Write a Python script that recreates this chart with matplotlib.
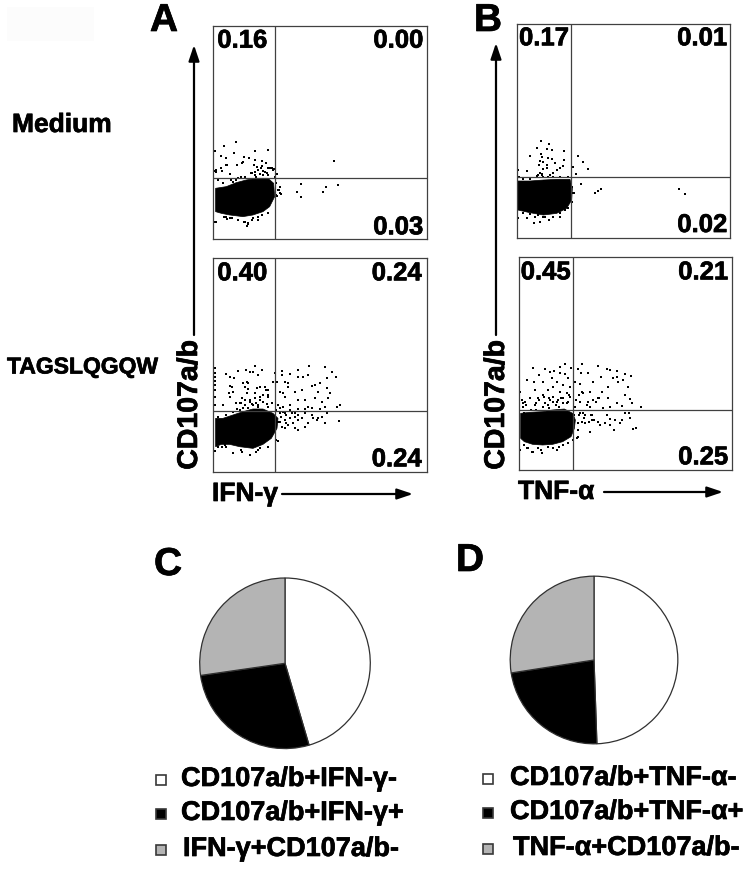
import matplotlib
matplotlib.use('Agg')
import matplotlib.pyplot as plt
import matplotlib.patheffects as pe

plt.rcParams['font.family'] = ['Liberation Sans', 'DejaVu Sans']
plt.rcParams['font.weight'] = 'bold'

W, H = 752, 873

# flow plot dots, channels 0-640
a1_x = [68, 31, 6, 126, 165, 63, 23, 38, 93, 108, 125, 145, 90, 85, 71, 41, 22, 6, 27, 123, 130, 158, 145, 165, 175, 182, 135, 150, 125, 115, 140, 160, 50, 95, 75, 53, 192, 185, 200, 197, 202, 190, 262, 252, 264, 329, 338, 373, 363, 6, 41, 55, 75, 93, 105, 102, 115, 133, 147, 33,
        29, 14, 59, 69, 84, 114, 124, 134, 144, 154, 164, 179, 169, 189, 189, 194, 199, 189, 129, 149, 39, 24, 7, 9, 119, 104, 94, 74, 49, 29, 7, 39, 134, 164]
a1_y = [291, 281, 264, 266, 269, 259, 251, 245, 247, 244, 238, 236, 233, 228, 224, 222, 215, 206, 205, 223, 218, 228, 221, 213, 213, 211, 208, 206, 203, 198, 196, 198, 196, 188, 183, 178, 196, 188, 158, 148, 135, 130, 165, 142, 127, 142, 158, 162, 234, 53, 62, 63, 58, 51, 46, 40, 58, 58, 73, 68,
        168, 178, 173, 178, 188, 198, 193, 208, 213, 203, 193, 208, 213, 196, 168, 148, 138, 133, 188, 193, 223, 213, 203, 208, 63, 48, 53, 58, 63, 83, 53, 68, 68, 78]
a1_blob_x = [7, 39, 69, 99, 129, 164, 181, 184, 169, 149, 119, 89, 49, 24, 7]
a1_blob_y = [153, 158, 170, 178, 183, 183, 168, 128, 98, 83, 73, 68, 73, 78, 83]

a2_x = [6, 6, 6, 6, 6, 6, 6, 6, 125, 97, 73, 147, 110, 120, 135, 37, 50, 63, 100, 105, 90, 50, 57, 95, 103, 47, 60, 130, 140, 155, 165, 125, 100, 165, 140, 85, 110, 125, 150, 80, 95, 115, 135, 160, 175, 180, 185, 30, 70, 90,
        207, 207, 230, 253, 286, 336, 355, 368, 340, 255, 270, 285, 215, 225, 190, 305, 320, 295, 340, 200, 210, 215, 225, 265, 245, 315, 350, 343, 325, 305, 275, 255, 285, 295, 230, 210, 195, 335, 380, 370, 320, 255, 275,
        200, 215, 235, 253, 275, 295, 340, 325, 200, 215, 230, 245, 265, 285, 300, 315, 310, 378, 335, 205, 225, 245, 253, 275, 193,
        6, 25, 60, 85, 110, 135, 35,
        94, 84, 109, 119, 129, 124, 139, 159, 149, 164, 69, 134, 104, 79, 59, 39, 14, 24, 29, 49, 164, 199, 209, 219, 204, 229, 194, 239, 219, 214, 189, 164, 139, 129, 109, 84, 59, 39, 14, 189, 229, 244, 254]
a2_y = [312, 297, 285, 273, 260, 245, 225, 200, 317, 305, 303, 305, 299, 298, 290, 293, 283, 281, 270, 265, 267, 257, 253, 255, 247, 235, 240, 250, 255, 253, 245, 235, 235, 230, 225, 220, 215, 220, 210, 205, 200, 203, 200, 203, 207, 270, 295, 200, 187, 190,
        301, 290, 293, 304, 317, 313, 300, 285, 280, 283, 285, 290, 270, 265, 268, 260, 267, 257, 250, 240, 235, 225, 255, 245, 240, 240, 235, 220, 210, 220, 215, 215, 195, 190, 200, 195, 200, 195, 200, 193, 187, 187, 187,
        175, 175, 175, 170, 177, 170, 175, 165, 150, 155, 160, 165, 160, 145, 160, 160, 155, 152, 145, 135, 140, 130, 125, 135, 93,
        62, 75, 55, 60, 50, 65, 80,
        215, 205, 210, 200, 205, 220, 215, 245, 230, 225, 205, 195, 190, 185, 180, 170, 165, 155, 200, 225, 195, 190, 180, 170, 165, 160, 150, 145, 145, 130, 95, 75, 70, 60, 50, 65, 55, 75, 75, 185, 185, 175, 155]
a2_blob_x = [7, 29, 59, 89, 119, 149, 179, 194, 191, 174, 149, 119, 79, 49, 24, 7]
a2_blob_y = [160, 160, 170, 180, 188, 188, 175, 160, 130, 100, 82, 70, 75, 82, 82, 75]

b1_x = [73, 95, 61, 89, 105, 142, 38, 71, 76, 92, 104, 69, 79, 67, 89, 114, 141, 182, 197, 212, 169, 176, 139, 129, 119, 109, 99, 91, 77, 69, 74, 31, 4, 59, 191, 171, 251, 242, 234, 487, 505, 51, 69, 96, 129, 4, 29, 144, 54, 84,
        64, 74, 59, 39, 19, 79, 94, 109, 129, 154, 164, 169, 164, 154, 129, 109, 79, 64, 39, 19, 7]
b1_y = [291, 281, 270, 266, 263, 259, 245, 251, 243, 238, 235, 231, 228, 218, 218, 225, 233, 245, 227, 206, 213, 191, 215, 208, 203, 193, 188, 208, 206, 193, 188, 200, 203, 185, 161, 135, 145, 139, 133, 145, 130, 43, 46, 53, 61, 58, 58, 83, 63, 61,
        188, 191, 183, 175, 175, 183, 183, 183, 183, 183, 153, 135, 108, 88, 73, 63, 63, 68, 71, 73, 183]
b1_blob_x = [3, 39, 79, 119, 159, 166, 164, 149, 119, 79, 39, 3]
b1_blob_y = [170, 170, 173, 175, 175, 148, 113, 88, 73, 68, 75, 83]

b2_x = [43, 79, 94, 106, 124, 139, 156, 124, 139, 62, 99, 74, 46, 24, 114, 134, 149, 154, 104, 89, 49, 124, 144, 74, 59, 34, 9, 19, 104, 134, 154, 94, 79, 114, 144, 49, 14, 4,
        189, 179, 237, 186, 209, 264, 274, 294, 319, 336, 246, 294, 284, 222, 184, 169, 299, 314, 329, 269, 189, 214, 182, 249, 319, 334, 239, 224, 269, 204, 184, 169, 294, 309, 366, 339, 254, 214, 274,
        184, 199, 219, 264, 319, 332, 274, 289, 309, 334, 199, 219, 239, 259, 274, 304, 286, 342, 352, 214, 179, 174, 189, 244,
        39, 69, 114, 24, 4, 134, 59,
        87, 102, 117, 127, 92, 77, 62, 52, 72, 112, 132, 147, 22, 12, 37, 17, 52, 92, 122, 167, 182, 197, 177, 192, 212, 177, 177, 162, 147, 122, 102, 87, 67, 42, 27, 17, 37, 152, 172, 192, 207, 232, 242, 217, 227]
b2_y = [306, 302, 295, 298, 310, 317, 305, 292, 288, 285, 275, 265, 263, 270, 265, 255, 275, 250, 248, 240, 240, 235, 232, 225, 215, 215, 210, 205, 220, 215, 220, 210, 202, 205, 200, 195, 190, 235,
        317, 302, 313, 290, 292, 302, 300, 298, 288, 283, 280, 280, 275, 265, 257, 265, 265, 270, 250, 250, 235, 235, 225, 235, 225, 213, 215, 210, 215, 195, 205, 190, 202, 192, 190, 200, 185, 190, 190,
        170, 165, 165, 165, 170, 170, 152, 150, 150, 155, 140, 150, 145, 140, 135, 140, 120, 124, 127, 115, 120, 95, 145, 135,
        53, 50, 60, 65, 60, 75, 65,
        195, 205, 210, 215, 215, 220, 210, 200, 190, 195, 200, 205, 195, 200, 180, 170, 180, 185, 190, 165, 165, 155, 140, 170, 145, 120, 100, 90, 80, 70, 65, 70, 60, 55, 65, 75, 85, 225, 210, 230, 205, 205, 215, 165, 150]
b2_blob_x = [6, 32, 72, 102, 137, 162, 170, 167, 157, 132, 102, 72, 42, 17, 6]
b2_blob_y = [170, 173, 175, 180, 183, 170, 150, 125, 100, 85, 77, 75, 77, 85, 95]

# quadrant percentages: UL, UR, LR
a1_pct = ['0.16', '0.00', '0.03']
a2_pct = ['0.40', '0.24', '0.24']
b1_pct = ['0.17', '0.01', '0.02']
b2_pct = ['0.45', '0.21', '0.25']

# pie fractions
c_vals = [0.40, 0.24, 0.24]
d_vals = [0.45, 0.21, 0.25]
pie_colors = ['white', 'black', '#b4b4b4']
c_labels = ['CD107a/b+IFN-γ-', 'CD107a/b+IFN-γ+', 'IFN-γ+CD107a/b-']
d_labels = ['CD107a/b+TNF-α-', 'CD107a/b+TNF-α+', 'TNF-α+CD107a/b-']

heavy = [pe.withStroke(linewidth=0.5, foreground='black')]


def px_axes(left, top, right, bottom):
    return fig.add_axes([left / W, 1 - bottom / H, (right - left) / W, (bottom - top) / H])


def flow_panel(box, gate, x, y, blob_x, blob_y, pct, xl, xr, yt, yb):
    ax = px_axes(*box)
    ax.fill(blob_x, blob_y, color='black', lw=0.5, zorder=2)
    ax.scatter(x, y, s=2.2, c='black', marker='s', linewidths=0, zorder=2)
    ax.axvline(gate[0], color='#404040', lw=0.9, zorder=3)
    ax.axhline(gate[1], color='#404040', lw=0.9, zorder=3)
    ax.set_xlim(0, 640)
    ax.set_ylim(0, 640)
    ax.set_xticks([])
    ax.set_yticks([])
    for s in ax.spines.values():
        s.set_color('#404040')
        s.set_linewidth(0.9)
    ax.text(xl, yt, pct[0], fontsize=18.5, ha='left', va='center', path_effects=heavy)
    ax.text(xr, yt, pct[1], fontsize=18.5, ha='right', va='center', path_effects=heavy)
    ax.text(xr, yb, pct[2], fontsize=18.5, ha='right', va='center', path_effects=heavy)


def pie_panel(cx, cy, r, vals):
    ax = px_axes(cx - r - 1, cy - r - 1, cx + r + 1, cy + r + 1)
    ax.pie(vals, colors=pie_colors, startangle=90, counterclock=False, normalize=True,
           wedgeprops=dict(edgecolor='#303030', linewidth=0.9))
    ax.set_xlim(-1.02, 1.02)
    ax.set_ylim(-1.02, 1.02)


fig = plt.figure(figsize=(W / 100, H / 100), dpi=100)

flow_panel((213.3, 26, 426.7, 239.3), (186, 184), a1_x, a1_y, a1_blob_x, a1_blob_y, a1_pct, 12, 630, 596, 36)
flow_panel((213.3, 258.3, 426.7, 471.7), (186, 183), a2_x, a2_y, a2_blob_x, a2_blob_y, a2_pct, 12, 625, 595, 37)
flow_panel((517, 24.3, 730.3, 237.7), (163, 181), b1_x, b1_y, b1_blob_x, b1_blob_y, b1_pct, 6, 631, 598, 38)
flow_panel((518.7, 256.7, 732, 470), (163, 180), b2_x, b2_y, b2_blob_x, b2_blob_y, b2_pct, 6, 629, 593, 38)

pie_panel(285, 663.3, 86, c_vals)
pie_panel(594, 660, 84.5, d_vals)

# overlay in image pixels for labels, arrows and legends
ov = fig.add_axes([0, 0, 1, 1], zorder=5)
ov.set_xlim(0, W)
ov.set_ylim(H, 0)
ov.axis('off')

# faint scanned patch in the top left corner
ov.add_patch(plt.Rectangle((7, 7), 87, 34, fc='#fcfcfc', ec='none'))

for letter, lx, ly in [('A', 164, 21), ('B', 488, 21), ('C', 168, 565), ('D', 470, 561)]:
    ov.text(lx, ly, letter, fontsize=28, ha='center', va='center', path_effects=heavy)

ov.text(12, 125, 'Medium', fontsize=19, ha='left', va='center', path_effects=heavy)
ov.text(7, 367, 'TAGSLQGQW', fontsize=16.5, ha='left', va='center', path_effects=heavy)

ov.text(190, 405, 'CD107a/b', fontsize=20.5, rotation=90, ha='center', va='center', path_effects=heavy)
ov.text(497, 405, 'CD107a/b', fontsize=20.5, rotation=90, ha='center', va='center', path_effects=heavy)
ov.text(212, 494, 'IFN-γ', fontsize=19, ha='left', va='center', path_effects=heavy)
ov.text(518, 492, 'TNF-α', fontsize=19, ha='left', va='center', path_effects=heavy)

head = '-|>,head_width=0.32,head_length=0.95'
for start, end in [((194, 335), (194, 45)), ((496, 335), (496, 43)),
                   ((282, 494), (413, 494)), ((604, 492), (723, 492))]:
    ov.annotate('', xy=end, xytext=start,
                arrowprops=dict(arrowstyle=head, color='black', lw=1.6, shrinkA=0, shrinkB=0))

for labels, mx, tx, ys in [(c_labels, 161, [181, 181, 183], [779, 813, 849]),
                           (d_labels, 488, [510, 510, 513], [778, 812, 848])]:
    for lab, col, t, yy in zip(labels, pie_colors, tx, ys):
        ov.plot([mx], [yy + 1], marker='s', ms=6.5, mfc=col, mec='#383838', mew=1.2)
        ov.text(t, yy, lab, fontsize=19.5, ha='left', va='center', path_effects=heavy)

fig.savefig('out.png', dpi=100)
